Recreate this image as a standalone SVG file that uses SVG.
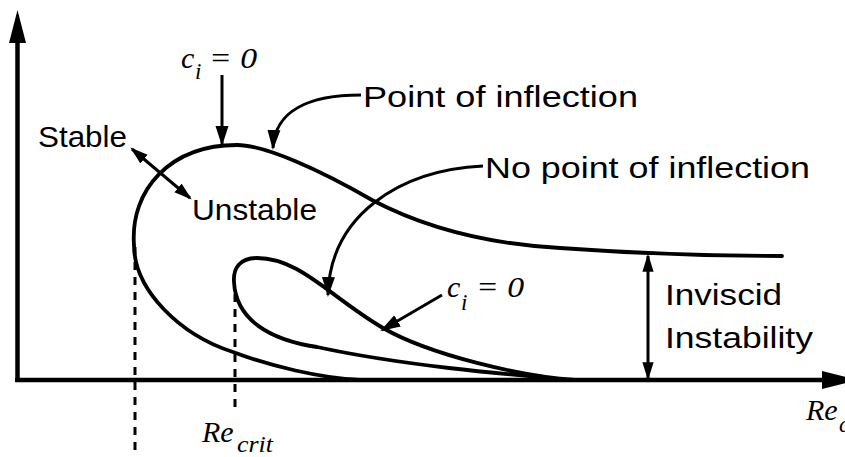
<svg xmlns="http://www.w3.org/2000/svg" width="845" height="457" viewBox="0 0 845 457">
<style>
.curve{fill:none;stroke:#000;stroke-width:3.8;stroke-linecap:round;stroke-linejoin:round}
.axis{fill:none;stroke:#000;stroke-width:4.5}
.arr{fill:none;stroke:#000;stroke-width:3}
.dash{fill:none;stroke:#000;stroke-width:3;stroke-dasharray:8 7}
.lbl{font-family:"Liberation Sans",Arial,sans-serif;font-size:30px;fill:#000}
.math{font-family:"Liberation Serif","Times New Roman",serif;font-style:italic;font-size:30px;fill:#000}
.sub{font-family:"Liberation Serif","Times New Roman",serif;font-style:italic;font-size:23px;fill:#000}
</style>
<defs>
<marker id="ah" markerUnits="userSpaceOnUse" markerWidth="22" markerHeight="14" refX="18" refY="6.5" orient="auto-start-reverse" viewBox="0 0 22 13">
<path d="M0,0 L20,6.5 L0,13 z" fill="#000"/>
</marker>
<marker id="ahs" markerUnits="userSpaceOnUse" markerWidth="18" markerHeight="12" refX="14" refY="5" orient="auto-start-reverse" viewBox="0 0 16 10">
<path d="M0,0 L16,5 L0,10 z" fill="#000"/>
</marker>
</defs>
<g id="axes">
<line class="axis" x1="17.5" y1="382" x2="17.5" y2="40"/>
<polygon points="17.5,10 26,43 9,43" fill="#000"/>
<line class="axis" x1="15" y1="380" x2="826" y2="380"/>
<polygon points="822,371 858,380 822,389" fill="#000"/>
</g>
<g id="outer-curve">
<path class="curve" d="M420,380 L360,380 C320,378 270,366 233,352 C180,335 134,290 134,245 C130,190 170,145 237,145 C265,145 320,170 372,200 C410,220 470,243 560,248 C630,253 700,256 782,256"/>
</g>
<g id="inner-loop">
<path class="curve" d="M575,380 C520,376 430,355 383,328 C330,297 300,258 257,258 C240,258 233,268 234,282 C236,320 270,340 317,347 C400,365 500,374 575,380"/>
</g>
<g id="guides">
<line class="dash" x1="135" y1="247" x2="135" y2="457"/>
<line class="dash" x1="235" y1="294" x2="235" y2="414"/>
</g>
<g id="connectors">
<line class="arr" x1="222" y1="75" x2="222" y2="144" marker-end="url(#ah)"/>
<path class="arr" d="M361,95 C310,95 275,110 273,148" marker-end="url(#ah)"/>
<path class="arr" d="M483,166 C400,170 330,215 328,295" marker-end="url(#ah)"/>
<line class="arr" x1="442" y1="295" x2="382" y2="330" marker-end="url(#ah)"/>
<line class="arr" x1="132" y1="149" x2="190" y2="198" marker-start="url(#ahs)" marker-end="url(#ahs)"/>
<line class="arr" x1="648" y1="256" x2="648" y2="378" marker-start="url(#ahs)" marker-end="url(#ahs)"/>
</g>
<g id="label-ci-top">
<text class="math" x="181" y="68">c</text>
<text class="sub" x="195" y="79">i</text>
<text class="math" x="209" y="68" textLength="48" lengthAdjust="spacingAndGlyphs">= 0</text>
</g>
<g id="label-ci-low">
<text class="math" x="447" y="297">c</text>
<text class="sub" x="461" y="310">i</text>
<text class="math" x="476" y="297" textLength="48" lengthAdjust="spacingAndGlyphs">= 0</text>
</g>
<g id="label-stable"><text class="lbl" x="38" y="147" textLength="89" lengthAdjust="spacingAndGlyphs">Stable</text></g>
<g id="label-unstable"><text class="lbl" x="192" y="220" textLength="125" lengthAdjust="spacingAndGlyphs">Unstable</text></g>
<g id="label-poi"><text class="lbl" x="363" y="107" textLength="275" lengthAdjust="spacingAndGlyphs">Point of inflection</text></g>
<g id="label-npoi"><text class="lbl" x="485" y="178" textLength="325" lengthAdjust="spacingAndGlyphs">No point of inflection</text></g>
<g id="label-inviscid">
<text class="lbl" x="665" y="305" textLength="117" lengthAdjust="spacingAndGlyphs">Inviscid</text>
<text class="lbl" x="665" y="348" textLength="148" lengthAdjust="spacingAndGlyphs">Instability</text>
</g>
<g id="label-recrit">
<text class="math" x="202" y="442">Re</text>
<text class="sub" x="237" y="452" textLength="36" lengthAdjust="spacingAndGlyphs">crit</text>
</g>
<g id="label-rec">
<text class="math" x="806" y="420">Re</text>
<text class="sub" x="839" y="432">c</text>
</g>
</svg>
